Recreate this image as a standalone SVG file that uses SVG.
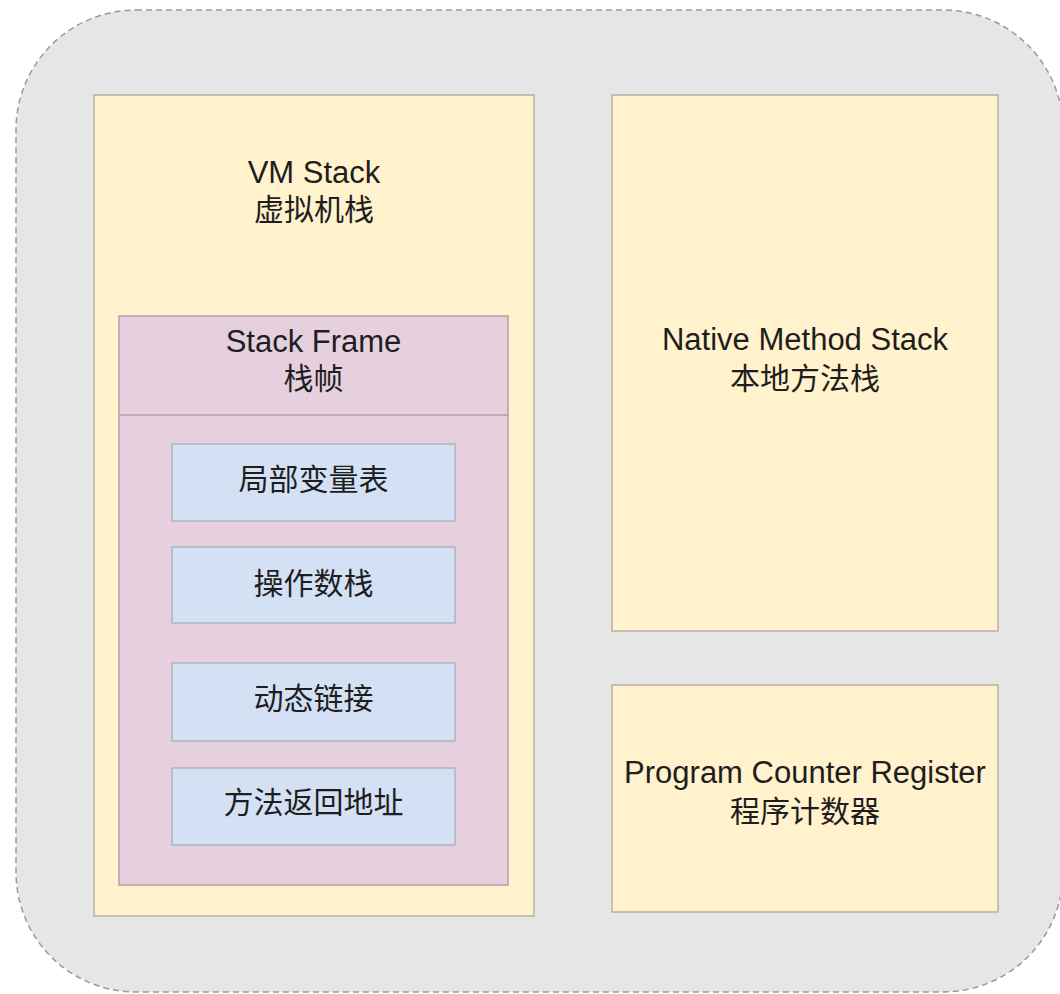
<svg xmlns="http://www.w3.org/2000/svg" width="1060" height="994" viewBox="0 0 1060 994">
<style>
.t{font-family:"Liberation Sans","Noto Sans CJK SC",sans-serif;font-size:31px;fill:#1e1e1e;text-anchor:middle}
.c{font-family:"Noto Sans CJK SC","Liberation Sans",sans-serif;font-size:30px;fill:#1e1e1e;text-anchor:middle}
.y{fill:#fff2cc;stroke:#b5b1a3;stroke-width:1.5}
.p{fill:#e6d0de;stroke:#aea2aa;stroke-width:1.5}
.b{fill:#d4e1f5;stroke:#aeb5bf;stroke-width:1.5}
</style>
<rect width="1060" height="994" fill="#ffffff"/>
<g id="jvm-area">
<rect x="16" y="10" width="1047" height="982" rx="120" ry="120" fill="#e6e6e6" stroke="#9a9a9a" stroke-width="1.5" stroke-dasharray="6 4"/>
</g>
<g id="vm-stack">
<rect class="y" x="94" y="95" width="440" height="821"/>
<text class="t" x="314" y="183">VM Stack</text>
<text class="c" x="314" y="220">虚拟机栈</text>
</g>
<g id="stack-frame">
<rect class="p" x="119" y="316" width="389" height="569"/>
<line x1="119" y1="415" x2="508" y2="415" stroke="#aea2aa" stroke-width="1.5"/>
<text class="t" x="313.5" y="352">Stack Frame</text>
<text class="c" x="313.5" y="389">栈帧</text>
</g>
<g id="local-vars">
<rect class="b" x="172" y="444" width="283" height="77"/>
<text class="c" x="313.5" y="490">局部变量表</text>
</g>
<g id="operand-stack">
<rect class="b" x="172" y="547" width="283" height="76"/>
<text class="c" x="313.5" y="594">操作数栈</text>
</g>
<g id="dynamic-link">
<rect class="b" x="172" y="663" width="283" height="78"/>
<text class="c" x="313.5" y="709">动态链接</text>
</g>
<g id="return-address">
<rect class="b" x="172" y="768" width="283" height="77"/>
<text class="c" x="313.5" y="813">方法返回地址</text>
</g>
<g id="native-method-stack">
<rect class="y" x="612" y="95" width="386" height="536"/>
<text class="t" x="805" y="350">Native Method Stack</text>
<text class="c" x="805" y="389">本地方法栈</text>
</g>
<g id="program-counter">
<rect class="y" x="612" y="685" width="386" height="227"/>
<text class="t" x="805" y="783">Program Counter Register</text>
<text class="c" x="805" y="822">程序计数器</text>
</g>
</svg>
